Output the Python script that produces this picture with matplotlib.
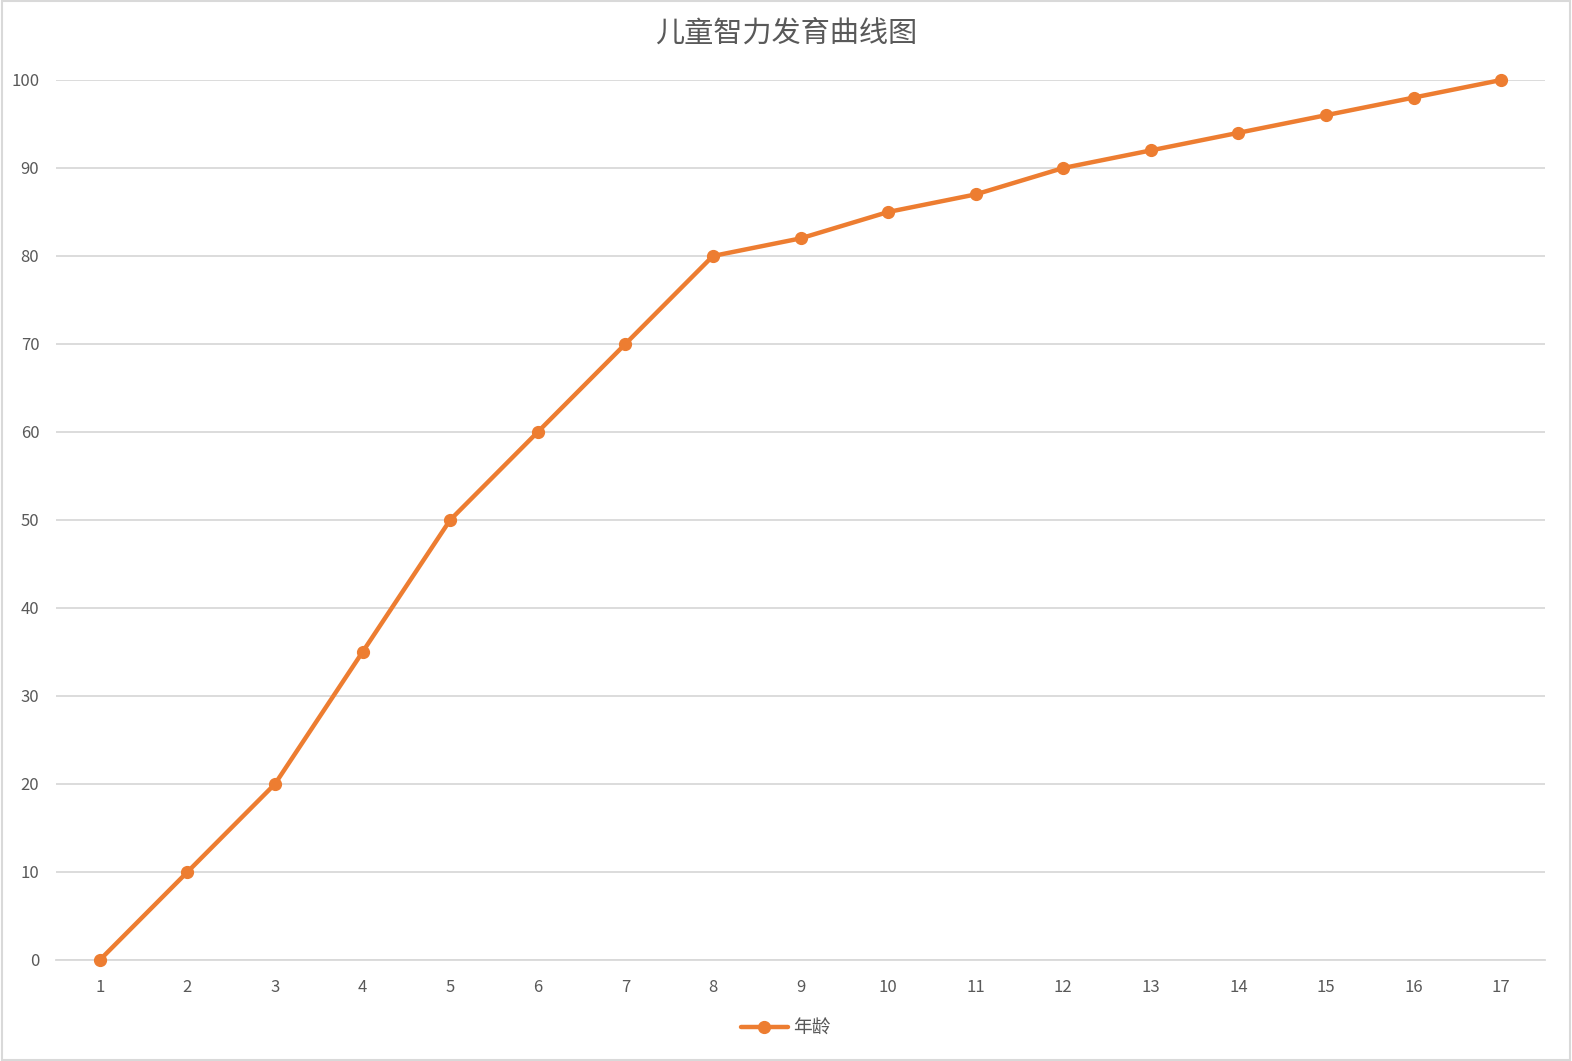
import matplotlib
matplotlib.use("Agg")
import matplotlib.pyplot as plt

plt.rcParams['font.family'] = ['Noto Sans CJK SC', 'DejaVu Sans']

ages = list(range(1, 18))
ages_labels = [str(a) for a in ages]
scores = [0, 10, 20, 35, 50, 60, 70, 80, 82, 85, 87, 90, 92, 94, 96, 98, 100]
series_name = "年龄"
title = "儿童智力发育曲线图"

fig = plt.figure(figsize=(15.72, 10.61), dpi=100)
ax = fig.add_axes([56 / 1572, 101 / 1061, (1545 - 56) / 1572, (960 - 80) / 1061])

ax.plot(ages, scores, color='#ED7D31', lw=3.2, marker='o', markersize=8.5,
        label=series_name, clip_on=False, zorder=3, solid_capstyle='round')

ax.set_xlim(0.5, 17.5)
ax.set_ylim(0, 100)
ax.set_xticks(ages)
ax.set_xticklabels(ages_labels)
ax.set_yticks(range(0, 101, 10))
ax.grid(axis='y', color='#D9D9D9', lw=1.3)
for s in ['top', 'right', 'left']:
    ax.spines[s].set_visible(False)
ax.spines['bottom'].set_color('#D9D9D9')
ax.spines['bottom'].set_linewidth(1.3)
ax.tick_params(length=0, labelsize=12, labelcolor='#595959')
ax.tick_params(axis='x', pad=14)
ax.tick_params(axis='y', pad=12)

fig.text(0.5, 1 - 34 / 1061, title, ha='center', va='center', fontsize=21,
         color='#595959', fontweight='medium')

fig.legend(loc='center', bbox_to_anchor=(0.5, 1 - 1028 / 1061), frameon=False,
           fontsize=13.5, labelcolor='#595959', handlelength=2.5, handletextpad=0.3)

fig.patches.append(plt.Rectangle((0.001, 0.001), 0.998, 0.998, transform=fig.transFigure,
                                 fill=False, edgecolor='#D9D9D9', lw=1.5))

fig.savefig("out.png", dpi=100)
